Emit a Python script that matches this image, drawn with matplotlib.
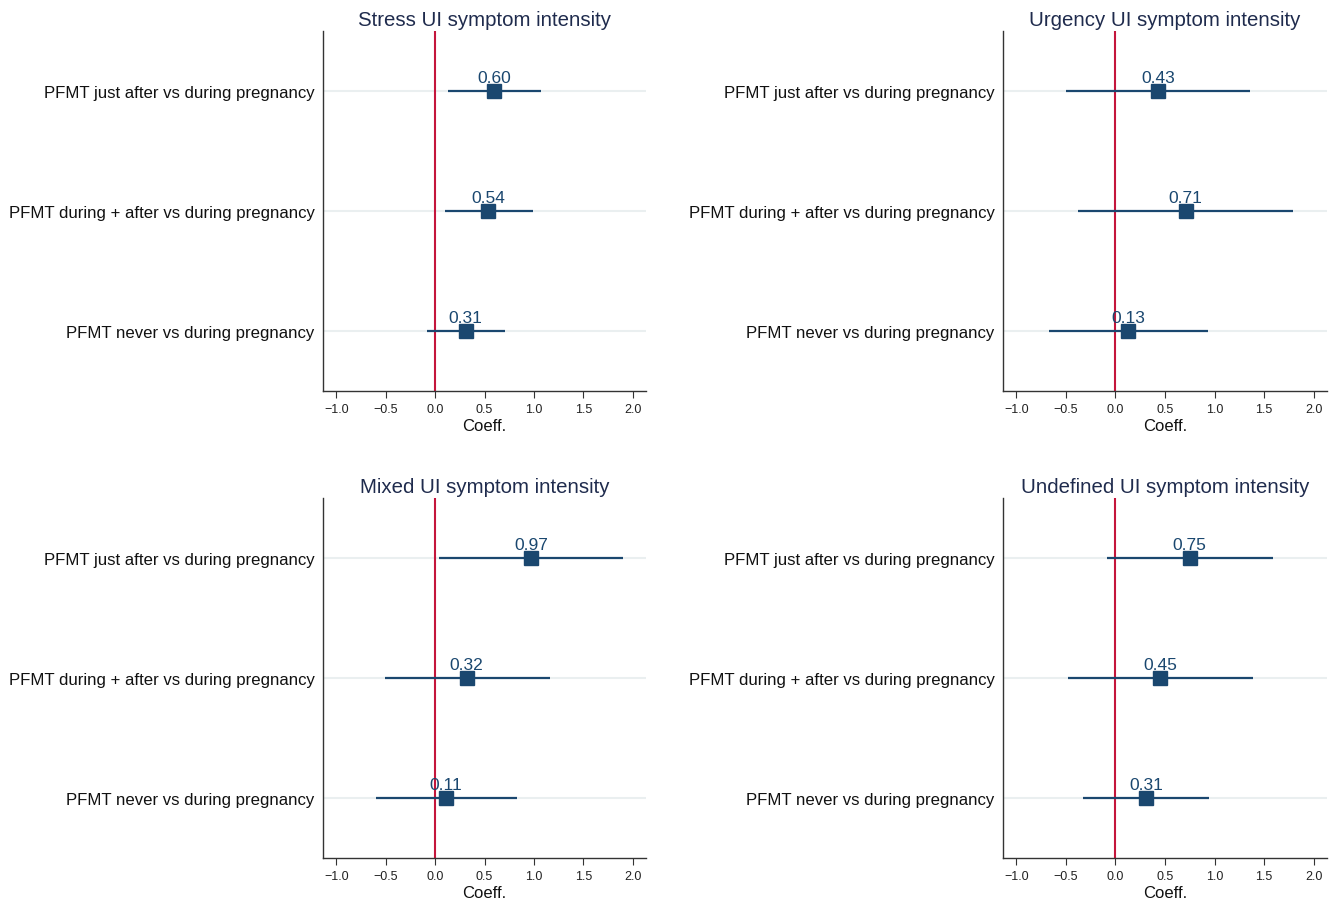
import numpy as np
import matplotlib
matplotlib.use("Agg")
import matplotlib.pyplot as plt

plt.rcParams['font.family'] = ['Liberation Sans', 'DejaVu Sans']

rows = ['PFMT just after vs during pregnancy',
        'PFMT during + after vs during pregnancy',
        'PFMT never vs during pregnancy']

titles = ['Stress UI symptom intensity', 'Urgency UI symptom intensity',
          'Mixed UI symptom intensity', 'Undefined UI symptom intensity']

# coefficient, lower CI, upper CI per panel (rows in order above)
stress_coef = [0.60, 0.54, 0.31]
stress_lo = [0.135, 0.105, -0.084]
stress_hi = [1.073, 0.989, 0.705]

urgency_coef = [0.43, 0.71, 0.13]
urgency_lo = [-0.503, -0.375, -0.672]
urgency_hi = [1.360, 1.792, 0.938]

mixed_coef = [0.97, 0.32, 0.11]
mixed_lo = [0.037, -0.510, -0.601]
mixed_hi = [1.907, 1.164, 0.830]

undef_coef = [0.75, 0.45, 0.31]
undef_lo = [-0.081, -0.476, -0.327]
undef_hi = [1.590, 1.384, 0.948]

panels = [(stress_coef, stress_lo, stress_hi),
          (urgency_coef, urgency_lo, urgency_hi),
          (mixed_coef, mixed_lo, mixed_hi),
          (undef_coef, undef_lo, undef_hi)]

xticks = [-1.0, -0.5, 0.0, 0.5, 1.0, 1.5, 2.0]

navy = '#1a476f'
W, H = 1334, 904
fig = plt.figure(figsize=(W / 100, H / 100), dpi=100)

# axes boxes in pixels: left, top, right, bottom
boxes = [(323, 32, 646, 392), (1003, 32, 1327, 392),
         (323, 499, 646, 859), (1003, 499, 1327, 859)]

ypos = np.array([3, 2, 1])

for (l, t, r, b), title, (coef, lo, hi) in zip(boxes, titles, panels):
    ax = fig.add_axes([l / W, 1 - b / H, (r - l) / W, (b - t) / H])
    ax.set_xlim(-1.135, 2.135)
    ax.set_ylim(0.5, 3.5)
    for y in ypos:
        ax.axhline(y, color='#eaeff0', lw=1.5, zorder=0)
    ax.axvline(0, color='#c4163c', lw=1.5, zorder=1)
    ax.hlines(ypos, lo, hi, color=navy, lw=1.6, zorder=2)
    ax.plot(coef, ypos, 's', color=navy, markersize=10, zorder=3)
    for c, y in zip(coef, ypos):
        ax.text(c, y + 0.05, f'{c:.2f}', ha='center', va='bottom',
                fontsize=12.5, color=navy, zorder=4)
    ax.set_yticks(ypos)
    ax.set_yticklabels(rows, fontsize=12.1, color='#111111')
    ax.tick_params(axis='y', length=0, pad=6)
    ax.set_xticks(xticks)
    ax.set_xticklabels([f'{v:.1f}'.replace('-', '\u2212') for v in xticks],
                       fontsize=9, color='#222222')
    ax.tick_params(axis='x', length=5, width=0.8, color='#333333', pad=4)
    ax.set_xlabel('Coeff.', fontsize=12, labelpad=2, color='#111111')
    ax.set_title(title, fontsize=14.7, color='#1f2b4d', pad=4)
    for s in ['top', 'right']:
        ax.spines[s].set_visible(False)
    for s in ['left', 'bottom']:
        ax.spines[s].set_color('#333333')
        ax.spines[s].set_linewidth(1.0)

fig.savefig('out.png', dpi=100, facecolor='white')
